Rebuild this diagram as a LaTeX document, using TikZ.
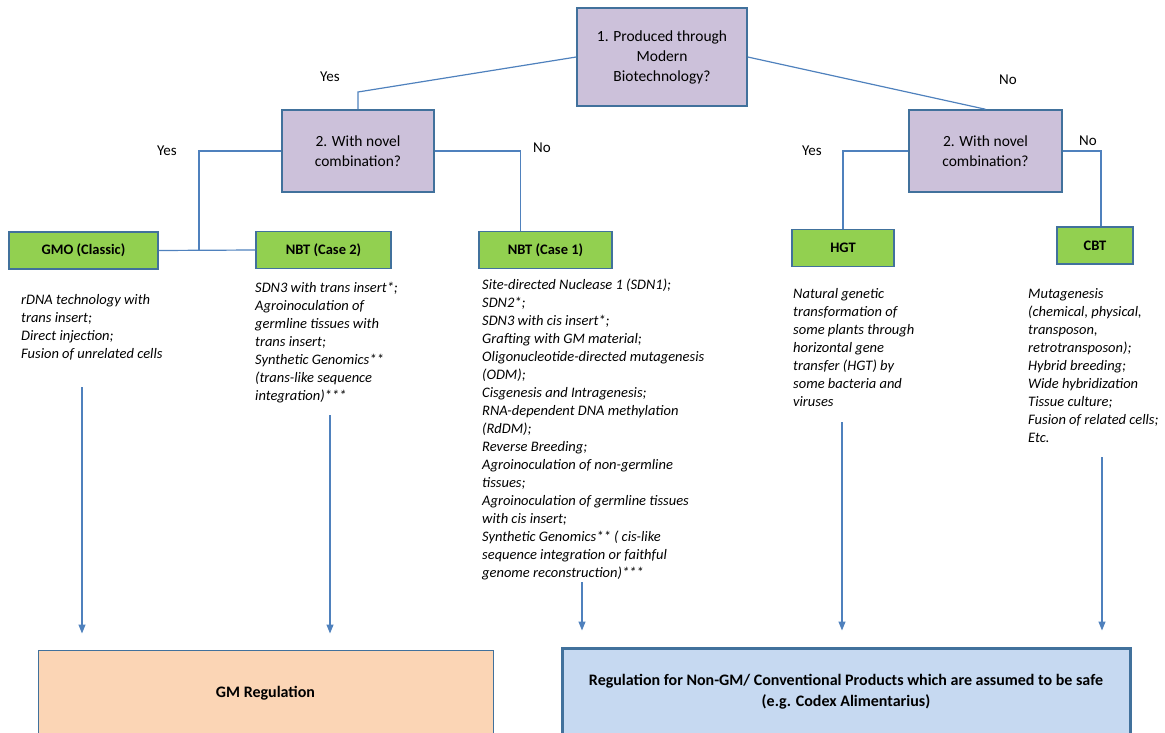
\documentclass[tikz,border=0pt]{standalone}
\usepackage{fontspec}
\setmainfont{Carlito}
\usetikzlibrary{arrows.meta}
\definecolor{questionFill}{RGB}{204,193,218}
\definecolor{boxBorder}{RGB}{65,113,156}
\definecolor{linkBlue}{RGB}{79,129,189}
\definecolor{methodGreen}{RGB}{146,208,80}
\definecolor{gmPeach}{RGB}{251,213,181}
\definecolor{safeBlue}{RGB}{198,217,241}
\newcommand{\listFont}{\fontsize{14.5}{18}\selectfont\itshape}

\begin{document}
\begin{tikzpicture}[%
  x=1pt,y=1pt,%
  questionStyle/.style={draw=boxBorder,line width=1.5pt,fill=questionFill,inner sep=0pt,%
    align=center,font=\fontsize{15.5}{20}\selectfont},%
  methodStyle/.style={draw=boxBorder,line width=1.5pt,fill=methodGreen,inner sep=0pt,%
    minimum height=37pt,font=\fontsize{14.5}{16}\selectfont\bfseries},%
  listStyle/.style={anchor=north west,inner sep=0pt,align=left,font=\listFont},%
  answerStyle/.style={inner sep=0pt,font=\fontsize{15}{16}\selectfont},%
  regStyle/.style={inner sep=0pt,align=center,font=\fontsize{16}{21}\selectfont\bfseries},%
  linkStyle/.style={draw=linkBlue,line width=1.2pt},%
  arrowStyle/.style={linkStyle,-{Triangle[length=9pt,width=7pt]}}%
]
%
\useasboundingbox (0,0) rectangle (1165,-733);
\clip (0,0) rectangle (1165,-733);
%
% Questions.
\node[questionStyle,minimum width=170pt,minimum height=98pt] (modernBio) at (662,-57)
  {1. Produced through\\Modern\\Biotechnology?};
\node[questionStyle,minimum width=152pt,minimum height=82pt] (novelYes) at (358,-151)
  {2. With novel\\combination?};
\node[questionStyle,minimum width=153pt,minimum height=82pt] (novelNo) at (985.5,-151)
  {2. With novel\\combination?};
%
% Categories.
\node[methodStyle,minimum width=149pt] (gmo) at (83.5,-250.5) {GMO (Classic)};
\node[methodStyle,minimum width=135pt] (nbtTwo) at (323.5,-250) {NBT (Case 2)};
\node[methodStyle,minimum width=133pt] (nbtOne) at (545.5,-250) {NBT (Case 1)};
\node[methodStyle,minimum width=102pt] (hgt) at (843,-248) {HGT};
\node[methodStyle,minimum width=76pt] (cbt) at (1095,-245.5) {CBT};
%
% Answers.
\node[answerStyle] (yesTop) at (330,-77) {Yes};
\node[answerStyle] (noTop) at (1008,-80) {No};
\node[answerStyle] (yesLeft) at (167,-151) {Yes};
\node[answerStyle] (noLeft) at (542,-148) {No};
\node[answerStyle] (yesRight) at (812,-151) {Yes};
\node[answerStyle] (noRight) at (1088,-141) {No};
%
% Connectors.
\coordinate (bendTop) at (358,-92);
\coordinate (joint) at (199,-250.5);
\draw[linkStyle] (modernBio.west) -- (bendTop) -- (novelYes.north);
\draw[linkStyle] (modernBio.east) -- (novelNo.north);
\draw[linkStyle] (novelYes.west) -| (joint);
\draw[linkStyle] (gmo.east) -- (nbtTwo.west);
\draw[linkStyle] (novelYes.east) -| ([xshift=-25pt]nbtOne.north);
\draw[linkStyle] (novelNo.west) -| (hgt.north);
\draw[linkStyle] (novelNo.east) -| ([xshift=6pt]cbt.north);
%
% Examples of each category.
\node[listStyle] (gmoList) at (21,-294) {%
  rDNA technology with\\trans insert;\\Direct injection;\\Fusion of unrelated cells};
\node[listStyle] (nbtTwoList) at (255,-282) {%
  SDN3 with trans insert*;\\Agroinoculation of\\germline tissues with\\trans insert;\\%
  Synthetic Genomics**\\(trans-like sequence\\integration)***};
\node[listStyle] (nbtOneList) at (482,-279) {%
  Site-directed Nuclease 1 (SDN1);\\SDN2*;\\SDN3 with cis insert*;\\%
  Grafting with GM material;\\Oligonucleotide-directed mutagenesis\\(ODM);\\%
  Cisgenesis and Intragenesis;\\RNA-dependent DNA methylation\\(RdDM);\\%
  Reverse Breeding;\\Agroinoculation of non-germline\\tissues;\\%
  Agroinoculation of germline tissues\\with cis insert;\\%
  Synthetic Genomics** ( cis-like\\sequence integration or faithful\\%
  genome reconstruction)***};
\node[listStyle] (hgtList) at (793,-288) {%
  Natural genetic\\transformation of\\some plants through\\horizontal gene\\%
  transfer (HGT) by\\some bacteria and\\viruses};
\node[listStyle] (cbtList) at (1028,-288) {%
  Mutagenesis\\(chemical, physical,\\transposon,\\retrotransposon);\\%
  Hybrid breeding;\\Wide hybridization\\Tissue culture;\\Fusion of related cells;\\Etc.};
%
% Regulation.
\node[regStyle,draw=boxBorder,line width=1pt,fill=gmPeach,
  minimum width=455pt,minimum height=86pt] (gmReg) at (265.5,-693) {GM Regulation};
\node[regStyle,draw=boxBorder,line width=3pt,fill=safeBlue,
  minimum width=568pt,minimum height=88pt] (safeReg) at (846,-692)
  {Regulation for Non-GM/ Conventional Products which are assumed to be safe\\%
  (e.g. Codex Alimentarius)};
%
\foreach \ax/\ay/\target in {82/387/gmReg,330/415/gmReg,582/582/safeReg,842/422/safeReg,1102/457/safeReg}{%
  \coordinate (arrowStart) at (\ax,-\ay);
  \draw[arrowStyle,shorten >=16pt] (arrowStart) -- (arrowStart |- \target.north);
}
\end{tikzpicture}
\end{document}
